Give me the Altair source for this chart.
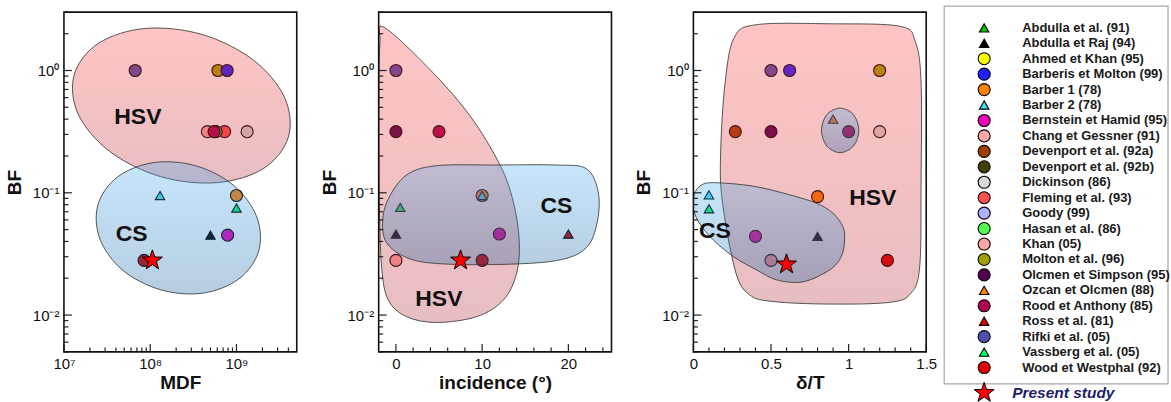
import altair as alt
import pandas as pd

FONT = "Liberation Sans"
STAR = ("M0,-1L0.235,-0.324L0.951,-0.309L0.380,0.124L0.588,0.809L0,0.4L-0.588,0.809"
        "L-0.380,0.124L-0.951,-0.309L-0.235,-0.324Z")

# ---------------- legend / sources ----------------
names = ["Abdulla et al. (91)", "Abdulla et Raj (94)", "Ahmed et Khan (95)", "Barberis et Molton (99)",
         "Barber 1 (78)", "Barber 2 (78)", "Bernstein et Hamid (95)", "Chang et Gessner (91)",
         "Devenport et al. (92a)", "Devenport et al. (92b)", "Dickinson (86)", "Fleming et al. (93)",
         "Goody (99)", "Hasan et al. (86)", "Khan (05)", "Molton et al. (96)", "Olcmen et Simpson (95)",
         "Ozcan et Olcmen (88)", "Rood et Anthony (85)", "Ross et al. (81)", "Rifki et al. (05)",
         "Vassberg et al. (05)", "Wood et Westphal (92)"]
colors = ["#00c000", "#000000", "#ffff00", "#2020ff", "#ff8000", "#40e0f0", "#f000b8", "#ffa8a8",
          "#a04000", "#404000", "#d8d8d8", "#ff5050", "#b0b0ff", "#50ff50", "#ffa8a8", "#a0a000",
          "#500050", "#ff8000", "#b00050", "#e00000", "#5050b0", "#00ff60", "#e00000"]
shapes = ["triangle-up", "triangle-up", "circle", "circle", "circle", "triangle-up", "circle", "circle",
          "circle", "circle", "circle", "circle", "circle", "circle", "circle", "circle", "circle",
          "triangle-up", "circle", "triangle-up", "circle", "triangle-up", "circle"]

# ---------------- panel 1 : MDF ----------------
p1_src = ["Rifki et al. (05)", "Molton et al. (96)", "Barberis et Molton (99)",
          "Chang et Gessner (91)", "Fleming et al. (93)", "Hasan et al. (86)", "Rood et Anthony (85)",
          "Dickinson (86)", "Barber 2 (78)", "Barber 1 (78)", "Vassberg et al. (05)",
          "Abdulla et Raj (94)", "Bernstein et Hamid (95)", "Wood et Westphal (92)"]
p1_mdf = [6.7e7, 6.1e8, 7.8e8, 4.6e8, 7.3e8, 5.8e8, 5.5e8, 1.33e9, 1.3e8, 1.0e9, 1.0e9, 5.0e8, 7.9e8, 8.5e7]
p1_bf = [1.0, 1.0, 1.0, 0.316, 0.316, 0.316, 0.316, 0.316, 0.095, 0.095, 0.075, 0.045, 0.045, 0.028]
p1_star = (1.06e8, 0.028)

hsv1_x = [4.0e9, 2.06e9, 5.92e8, 1.32e8, 3.39e7, 1.46e7, 1.32e7, 2.55e7, 8.9e7, 4.0e8, 1.55e9, 3.6e9]
hsv1_y = [0.286, 0.158, 0.121, 0.1355, 0.218, 0.441, 0.931, 1.68, 2.21, 1.97, 1.226, 0.605]
cs1_x = [1.81e9, 1.07e9, 4.07e8, 1.32e8, 4.79e7, 2.61e7, 2.48e7, 4.2e7, 1.1e8, 3.41e8, 9.35e8, 1.72e9]
cs1_y = [0.0334, 0.0198, 0.0151, 0.0161, 0.0233, 0.042, 0.0799, 0.135, 0.1766, 0.166, 0.1143, 0.0634]
p1_lab = ["HSV", "CS"]
p1_lab_x = [7.2e7, 6.1e7]
p1_lab_y = [0.42, 0.0459]

# ---------------- panel 2 : incidence ----------------
p2_src = ["Rifki et al. (05)", "Olcmen et Simpson (95)", "Rood et Anthony (85)", "Barber 1 (78)",
          "Barber 2 (78)", "Vassberg et al. (05)", "Abdulla et Raj (94)", "Bernstein et Hamid (95)",
          "Ross et al. (81)", "Khan (05)", "Wood et Westphal (92)"]
p2_inc = [0, 0, 5, 10, 10, 0.5, 0, 12, 20, 0, 10]
p2_bf = [1.0, 0.316, 0.316, 0.095, 0.095, 0.076, 0.046, 0.046, 0.046, 0.028, 0.028]
p2_star = (7.5, 0.028)

hsv2_x = [-1.39, 3.94, 8.57, 12.05, 13.6, 14.3, 13.99, 12.45, 9.35, 4.72, 1.24, -0.88, -1.66, -1.92, -2.0, -1.85]
hsv2_y = [2.26, 1.02, 0.428, 0.17, 0.0852, 0.0405, 0.0218, 0.01325, 0.0097, 0.0087, 0.0097, 0.01325,
          0.0246, 0.085, 0.548, 1.67]
cs2_x = [1.24, 4.72, 11.67, 18.62, 22.08, 23.45, 23.37, 22.08, 18.62, 11.67, 4.72, 1.24, -1.08, -1.54, -0.85]
cs2_y = [0.140, 0.1665, 0.1687, 0.1687, 0.1574, 0.1026, 0.0587, 0.0355, 0.0279, 0.0259, 0.0264, 0.0295,
         0.0390, 0.0587, 0.0901]
p2_lab = ["HSV", "CS"]
p2_lab_x = [4.98, 18.62]
p2_lab_y = [0.0135, 0.0776]

# ---------------- panel 3 : delta/T ----------------
p3_src = ["Rifki et al. (05)", "Barberis et Molton (99)", "Molton et al. (96)", "Devenport et al. (92a)",
          "Olcmen et Simpson (95)", "Ozcan et Olcmen (88)", "Rood et Anthony (85)", "Dickinson (86)",
          "Barber 2 (78)", "Vassberg et al. (05)", "Barber 1 (78)", "Bernstein et Hamid (95)",
          "Abdulla et Raj (94)", "Khan (05)", "Wood et Westphal (92)"]
p3_dt = [0.5, 0.62, 1.2, 0.27, 0.5, 0.9, 1.0, 1.2, 0.1, 0.1, 0.8, 0.4, 0.8, 0.5, 1.25]
p3_bf = [1.0, 1.0, 1.0, 0.316, 0.316, 0.40, 0.316, 0.316, 0.096, 0.074, 0.093, 0.044, 0.044, 0.028, 0.028]
p3_star = (0.6, 0.026)

hsv3_x = [0.407, 0.878, 1.330, 1.430, 1.467, 1.467, 1.458, 1.400, 1.263, 0.878, 0.514, 0.360, 0.270,
          0.185, 0.176, 0.204, 0.262]
hsv3_y = [2.37, 2.41, 2.30, 1.72, 0.789, 0.120, 0.0249, 0.0150, 0.0127, 0.0123, 0.0129, 0.0147, 0.0230,
          0.0875, 0.224, 0.789, 1.85]
cs3_x = [0.064, 0.193, 0.407, 0.621, 0.793, 0.899, 0.963, 0.974, 0.953, 0.878, 0.707, 0.536, 0.407,
         0.257, 0.107, 0.011, 0.005]
cs3_y = [0.118, 0.120, 0.112, 0.0961, 0.0822, 0.0681, 0.0529, 0.0412, 0.0301, 0.0234, 0.0187, 0.0194,
         0.0234, 0.0301, 0.0438, 0.0659, 0.0961]
bub3_x = [0.945, 1.031, 1.066, 1.031, 0.945, 0.860, 0.825, 0.860]
bub3_y = [0.492, 0.436, 0.324, 0.241, 0.213, 0.241, 0.324, 0.436]
p3_lab = ["HSV", "CS"]
p3_lab_x = [1.156, 0.139]
p3_lab_y = [0.0903, 0.049]

# ---------------- axes ticks ----------------
y_major = [0.01, 0.1, 1.0]
y_major_txt = ["10⁻²", "10⁻¹", "10⁰"]
y_minor = [0.005, 0.006, 0.007, 0.008, 0.009, 0.02, 0.03, 0.04, 0.05, 0.06, 0.07, 0.08, 0.09,
           0.2, 0.3, 0.4, 0.5, 0.6, 0.7, 0.8, 0.9, 2, 3]
x1_major = [1e7, 1e8, 1e9]
x1_major_txt = ["10⁷", "10⁸", "10⁹"]
x1_minor = [2e7, 3e7, 4e7, 5e7, 6e7, 7e7, 8e7, 9e7, 2e8, 3e8, 4e8, 5e8, 6e8, 7e8, 8e8, 9e8, 2e9, 3e9, 4e9]
x2_major = [0, 10, 20]
x2_minor = [2, 4, 6, 8, 12, 14, 16, 18, 22, 24]
x3_major = [0, 0.5, 1.0, 1.5]
x3_minor = [0.1, 0.2, 0.3, 0.4, 0.6, 0.7, 0.8, 0.9, 1.1, 1.2, 1.3, 1.4]

W, H = 233, 340
PINK = {"gradient": "linear", "x1": 0, "x2": 0, "y1": 0, "y2": 1,
        "stops": [{"offset": 0, "color": "#ff3c3c"}, {"offset": 1, "color": "#b02838"}]}
BLUE = {"gradient": "linear", "x1": 0, "x2": 0, "y1": 0, "y2": 1,
        "stops": [{"offset": 0, "color": "#48acee"}, {"offset": 1, "color": "#0a5a9c"}]}

SIZE_SCALE = alt.Scale(domain=["circle", "triangle-up"], range=[145, 90])
FILL_SCALE = alt.Scale(domain=names, range=colors)
SHAPE_SCALE = alt.Scale(domain=names, range=shapes)
ONE = alt.Data(values=[{"k": 1}])


def log_label_expr(vals, txts):
    expr = "''"
    for v, t in zip(vals, txts):
        expr = f"abs(datum.value - {v}) < {v * 0.01} ? '{t}' : ({expr})"
    return expr


y_scale = alt.Scale(type="log", domain=[0.005, 3], nice=False)
y_axis = alt.Axis(title="BF", values=y_major, labelExpr=log_label_expr(y_major, y_major_txt),
                  labelPadding=5, titlePadding=8)


def build_panel(src, xs, ys, star, outlines, lab, lab_x, lab_y, x_scale, x_axis, xmaj, xmin):
    kind = [shapes[names.index(s)] for s in src]
    pts = pd.DataFrame({"src": src, "x": xs, "y": ys, "kind": kind})
    X = alt.X("x:Q", scale=x_scale, axis=x_axis)
    Y = alt.Y("y:Q", scale=y_scale, axis=y_axis)

    points = alt.Chart(pts).mark_point(filled=True, stroke="black", strokeWidth=1.1, opacity=1).encode(
        x=X, y=Y,
        fill=alt.Fill("src:N", scale=FILL_SCALE, legend=None),
        shape=alt.Shape("src:N", scale=SHAPE_SCALE, legend=None),
        size=alt.Size("kind:N", scale=SIZE_SCALE, legend=None),
    )
    layers = [points]
    for ox, oy, fill in outlines:
        df = pd.DataFrame({"x": ox, "y": oy, "i": list(range(len(ox)))})
        layers.append(alt.Chart(df).mark_line(interpolate="cardinal-closed", fill=fill, fillOpacity=0.3,
                                               stroke="#3a3a3a", strokeWidth=1, strokeOpacity=0.85,
                                               clip=True).encode(x=X, y=Y, order="i:Q"))
    ldf = pd.DataFrame({"x": lab_x, "y": lab_y, "t": lab})
    layers.append(alt.Chart(ldf).mark_text(font=FONT, fontSize=23, fontWeight="bold", color="#111").encode(
        x=X, y=Y, text="t:N"))
    sdf = pd.DataFrame({"x": [star[0]], "y": [star[1]]})
    layers.append(alt.Chart(sdf).mark_point(shape=STAR, filled=True, fill="#ff0000", stroke="black",
                                            strokeWidth=1, size=440, opacity=1).encode(x=X, y=Y))
    # inward ticks
    for vals, ln in ((y_major, 8), (y_minor, 4.5)):
        layers.append(alt.Chart(pd.DataFrame({"y": vals})).mark_rule(color="#222", strokeWidth=1.2).encode(
            y=Y, x=alt.value(0), x2=alt.value(ln)))
    for vals, ln in ((xmaj, 8), (xmin, 4.5)):
        layers.append(alt.Chart(pd.DataFrame({"x": vals})).mark_rule(color="#222", strokeWidth=1.2).encode(
            x=X, y=alt.value(H), y2=alt.value(H - ln)))
    # frame
    layers.append(alt.Chart(ONE).mark_rect(fill="transparent", stroke="#111", strokeWidth=1.6).encode(
        x=alt.value(0), x2=alt.value(W), y=alt.value(0), y2=alt.value(H)))
    return alt.layer(*layers).properties(width=W, height=H)


x1_scale = alt.Scale(type="log", domain=[1e7, 5e9], nice=False)
x1_axis = alt.Axis(title="MDF", values=x1_major, labelExpr=log_label_expr(x1_major, x1_major_txt),
                   labelFlush=False, labelPadding=5, titlePadding=2)
x2_scale = alt.Scale(domain=[-2, 25], nice=False, zero=False)
x2_axis = alt.Axis(title="incidence (°)", values=x2_major, format="d", labelFlush=False,
                   labelPadding=5, titlePadding=2)
x3_scale = alt.Scale(domain=[0, 1.5], nice=False, zero=False)
x3_axis = alt.Axis(title="δ/T", values=x3_major, labelExpr="format(datum.value, '~g')", labelFlush=False,
                   labelPadding=5, titlePadding=2)

panel1 = build_panel(p1_src, p1_mdf, p1_bf, p1_star,
                     [(hsv1_x, hsv1_y, PINK), (cs1_x, cs1_y, BLUE)],
                     p1_lab, p1_lab_x, p1_lab_y, x1_scale, x1_axis, x1_major, x1_minor)
panel2 = build_panel(p2_src, p2_inc, p2_bf, p2_star,
                     [(hsv2_x, hsv2_y, PINK), (cs2_x, cs2_y, BLUE)],
                     p2_lab, p2_lab_x, p2_lab_y, x2_scale, x2_axis, x2_major, x2_minor)
panel3 = build_panel(p3_src, p3_dt, p3_bf, p3_star,
                     [(hsv3_x, hsv3_y, PINK), (cs3_x, cs3_y, BLUE), (bub3_x, bub3_y, BLUE)],
                     p3_lab, p3_lab_x, p3_lab_y, x3_scale, x3_axis, x3_major, x3_minor)

# ---------------- legend panel ----------------
LW = 160
BOX_L = -64
leg = pd.DataFrame({"src": names, "row": list(range(len(names))), "kind": shapes})
leg_y = alt.Y("row:Q", scale=alt.Scale(domain=[0, len(names) - 1], range=[15.7, 355.7]), axis=None)
box = alt.Chart(ONE).mark_rect(fill="white", stroke="#a8a8a8", strokeWidth=1.2).encode(
    x=alt.value(BOX_L), x2=alt.value(LW), y=alt.value(-6), y2=alt.value(372))
syms = alt.Chart(leg).mark_point(filled=True, stroke="black", strokeWidth=1.1, opacity=1).encode(
    x=alt.value(BOX_L + 40), y=leg_y,
    fill=alt.Fill("src:N", scale=FILL_SCALE, legend=None),
    shape=alt.Shape("src:N", scale=SHAPE_SCALE, legend=None),
    size=alt.Size("kind:N", scale=SIZE_SCALE, legend=None),
)
txts = alt.Chart(leg).mark_text(font=FONT, fontSize=13, fontWeight="bold", color="#1a1a1a", align="left",
                                baseline="middle").encode(x=alt.value(BOX_L + 78), y=leg_y, text="src:N")
pres = alt.Data(values=[{"t": "Present study"}])
pstar = alt.Chart(pres).mark_point(shape=STAR, filled=True, fill="#ff0000", stroke="black", strokeWidth=1,
                                   size=440, opacity=1).encode(x=alt.value(BOX_L + 40), y=alt.value(381))
ptext = alt.Chart(pres).mark_text(font=FONT, fontSize=15.5, fontWeight="bold", fontStyle="italic",
                                  color="#1d1d6b", align="left", baseline="middle").encode(
    x=alt.value(BOX_L + 68), y=alt.value(381), text="t:N")
legend_panel = alt.layer(box, syms, txts, pstar, ptext).properties(width=LW, height=H)

chart = alt.hconcat(panel1, panel2, panel3, legend_panel, spacing=82, bounds="flush").resolve_scale(
    x="independent", y="independent"
).properties(
    padding={"left": 5, "top": 5, "right": 0, "bottom": 0}
).configure_view(strokeWidth=0).configure_axis(
    labelFont=FONT, titleFont=FONT, labelFontSize=15, titleFontSize=19, titleFontWeight="bold",
    labelColor="#111", titleColor="#111", domain=False, ticks=False, grid=False)

chart.save("out.html", embed_options={"renderer": "svg", "actions": False})
